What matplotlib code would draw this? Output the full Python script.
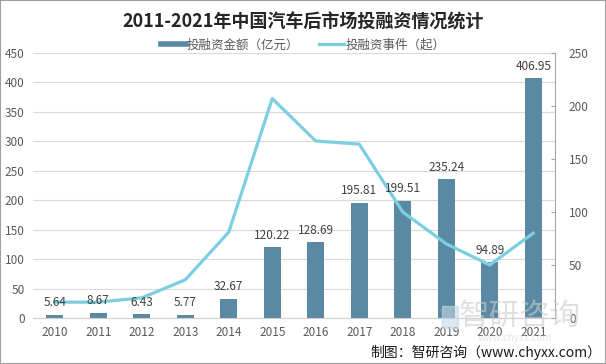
'''
2011-2021 China auto aftermarket investment chart
'''
import matplotlib.pyplot as plt
from matplotlib.lines import Line2D
from matplotlib.patches import Rectangle

# data
years = ['2010', '2011', '2012', '2013', '2014', '2015',
         '2016', '2017', '2018', '2019', '2020', '2021']
amount = [5.64, 8.67, 6.43, 5.77, 32.67, 120.22,
          128.69, 195.81, 199.51, 235.24, 94.89, 406.95]
events = [15, 15, 19, 36, 81, 207, 167, 164, 100, 70, 50, 80]

bar_color = '#5a8aa3'
line_color = '#7ccfe0'
grey = '#595959'

plt.rcParams['font.family'] = ['Noto Sans CJK SC', 'DejaVu Sans']

fig = plt.figure(figsize=(6.06, 3.64), dpi=100)
W, H = 606, 364
ax = fig.add_axes([33 / W, 1 - 318 / H, (555 - 33) / W, (318 - 53) / H])

x = list(range(len(years)))
ax.bar(x, amount, width=0.38, color=bar_color, zorder=2)
ax.set_xlim(-0.5, len(years) - 0.5)
ax.set_ylim(0, 450)
ax.set_yticks(range(0, 451, 50))
ax.set_xticks(x, years)
ax.grid(axis='y', color='#d9d9d9', lw=0.8)
ax.set_axisbelow(True)
for s in ['left', 'top', 'right']:
    ax.spines[s].set_visible(False)
ax.spines['bottom'].set_color('#d0d0d0')
ax.tick_params(axis='y', length=0, labelsize=8.5, colors=grey, pad=6)
ax.tick_params(axis='x', length=0, labelsize=8.5, colors=grey, pad=6)

# line on secondary axis
ax2 = ax.twinx()
ax2.plot(x, events, color=line_color, lw=2.3, zorder=3)
ax2.set_ylim(0, 250)
ax2.set_yticks(range(0, 251, 50))
for s in ['left', 'top', 'bottom']:
    ax2.spines[s].set_visible(False)
ax2.spines['right'].set_color('#a6a6a6')
ax2.tick_params(axis='y', direction='in', length=3, color='#a6a6a6',
                labelsize=8.5, colors=grey, pad=10)

# value labels above bars (drawn on top of the line)
for i, v in enumerate(amount):
    ax2.annotate(f'{v:.2f}', xy=(i, v), xycoords=ax.transData,
                 xytext=(0, 4), textcoords='offset points',
                 ha='center', va='bottom', fontsize=8.5, color='#404040',
                 zorder=5)

# title and legend
fig.text(0.5, 1 - 22 / H, '2011-2021年中国汽车后市场投融资情况统计',
         ha='center', va='center', fontsize=13, weight='bold', color='#262626')
handles = [Line2D([], [], color=bar_color, lw=4),
           Line2D([], [], color=line_color, lw=2.3)]
fig.legend(handles, ['投融资金额（亿元）', '投融资事件（起）'],
           loc='center', bbox_to_anchor=(0.5, 1 - 45 / H), ncol=2,
           frameon=False, fontsize=9, labelcolor=grey,
           handlelength=2.0, handletextpad=0.1, columnspacing=1.6,
           borderpad=0)

# faint watermark and source line
fig.text(520 / W, 1 - 316 / H, '智研咨询', ha='center', va='center',
         fontsize=22, color='#cccccc', alpha=0.6, zorder=0)
fig.text(515 / W, 1 - 338 / H, 'www.chyxx.com', ha='center',
         va='center', fontsize=7, color='#d4d4d4', alpha=0.6, zorder=0)
fig.patches.append(Rectangle((442 / W, 1 - 328 / H), 16 / W, 22 / H,
                             transform=fig.transFigure, color='#c5d7e3',
                             alpha=0.6, zorder=0))
fig.text(601 / W, 1 - 352 / H, '制图：智研咨询（www.chyxx.com）',
         ha='right', va='center', fontsize=10, color='#1a1a1a')

# thin frame round the picture
fig.patches.append(Rectangle((0, 0), 1, 1, transform=fig.transFigure,
                             fill=False, edgecolor='#a0a0a0', lw=1.5))

fig.savefig('out.png', dpi=100)
